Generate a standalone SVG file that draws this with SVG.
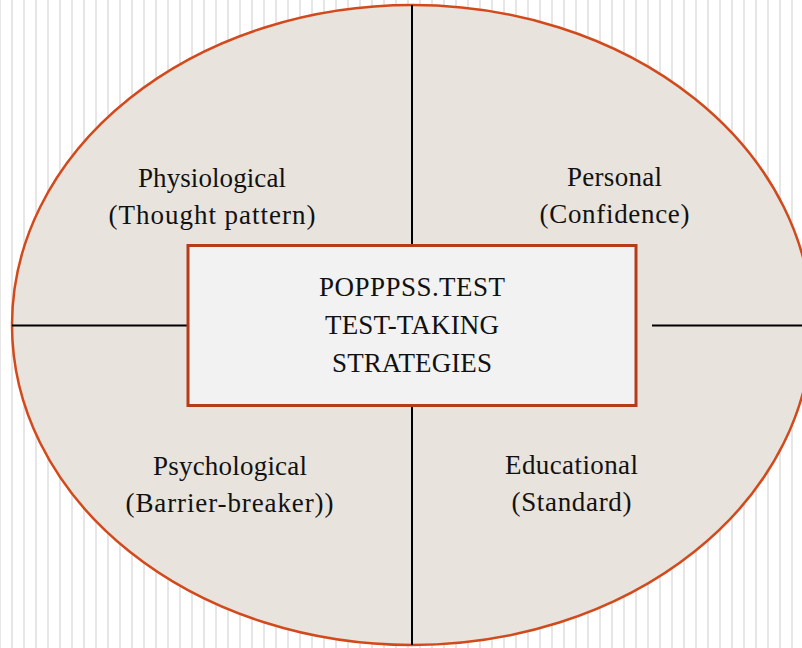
<svg xmlns="http://www.w3.org/2000/svg" width="802" height="648" viewBox="0 0 802 648">
<defs>
<pattern id="stripes" x="-1" y="0" width="12" height="648" patternUnits="userSpaceOnUse">
<rect x="0" y="0" width="2" height="648" fill="#e6e6e6"/>
</pattern>
</defs>
<style>
.lbl{font-family:"Liberation Serif","Times New Roman",serif;font-size:27px;fill:#111;text-anchor:middle}
.div{stroke:#000;stroke-width:2;fill:none}
</style>
<rect width="802" height="648" fill="#ffffff"/>
<rect width="802" height="648" fill="url(#stripes)"/>
<g id="ellipse">
<ellipse cx="412" cy="325" rx="400" ry="320" fill="#e8e3dc" stroke="#d24a1c" stroke-width="2.5"/>
</g>
<g id="connectors">
<line class="div" x1="412" y1="5" x2="412" y2="245"/>
<line class="div" x1="412" y1="406" x2="412" y2="645"/>
<line class="div" x1="12" y1="325.5" x2="188" y2="325.5"/>
<line class="div" x1="652" y1="325.5" x2="802" y2="325.5"/>
</g>
<g id="center">
<rect x="188" y="245.5" width="448" height="160" fill="#f2f2f2" stroke="#b53c1a" stroke-width="3"/>
<text class="lbl" x="412" y="296" textLength="186" lengthAdjust="spacing">POPPPSS.TEST</text>
<text class="lbl" x="412" y="334" textLength="174" lengthAdjust="spacing">TEST-TAKING</text>
<text class="lbl" x="412" y="372" textLength="160" lengthAdjust="spacing">STRATEGIES</text>
</g>
<g id="physiological">
<text class="lbl" x="212" y="187" textLength="148" lengthAdjust="spacing">Physiological</text>
<text class="lbl" x="212" y="224" textLength="207" lengthAdjust="spacing">(Thought pattern)</text>
</g>
<g id="personal">
<text class="lbl" x="614.5" y="186" textLength="95" lengthAdjust="spacing">Personal</text>
<text class="lbl" x="614.5" y="223" textLength="150" lengthAdjust="spacing">(Confidence)</text>
</g>
<g id="psychological">
<text class="lbl" x="230" y="475" textLength="154" lengthAdjust="spacing">Psychological</text>
<text class="lbl" x="229.5" y="512" textLength="208" lengthAdjust="spacing">(Barrier-breaker))</text>
</g>
<g id="educational">
<text class="lbl" x="571.5" y="474" textLength="133" lengthAdjust="spacing">Educational</text>
<text class="lbl" x="571.5" y="511" textLength="120" lengthAdjust="spacing">(Standard)</text>
</g>
</svg>
